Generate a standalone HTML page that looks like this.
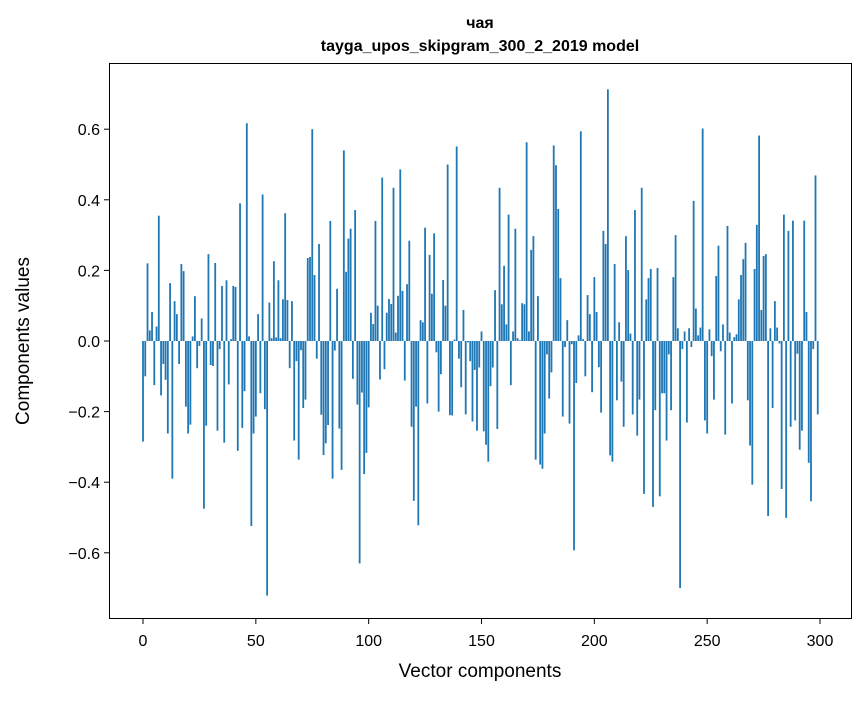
<!DOCTYPE html>
<html><head><meta charset="utf-8"><style>
body{margin:0;background:#fff;}
svg text{font-family:"Liberation Sans","DejaVu Sans",sans-serif;fill:#000;}
</style></head><body>
<svg id="chart" width="867" height="696" viewBox="0 0 867 696" xmlns="http://www.w3.org/2000/svg">
<rect width="867" height="696" fill="#fff"/>
<text x="480" y="28" text-anchor="middle" font-size="16" font-weight="bold">чая</text>
<text x="480" y="51" text-anchor="middle" font-size="16" font-weight="bold">tayga_upos_skipgram_300_2_2019 model</text>
<g id="bars"></g>
<g id="axes"></g>
<rect x="109.5" y="63.5" width="742" height="555" fill="none" stroke="#000" stroke-width="1"/>
<text x="480" y="677" text-anchor="middle" font-size="19">Vector components</text>
<text transform="translate(29,341) rotate(-90)" text-anchor="middle" font-size="19">Components values</text>
</svg>
<script>
const values = [
-0.285,-0.10,0.22,0.03,0.082,-0.125,0.041,0.355,-0.154,-0.065,
-0.11,-0.262,0.164,-0.39,0.113,0.076,-0.065,0.218,0.198,-0.186,
-0.262,-0.237,0.013,0.127,-0.077,-0.014,0.064,-0.475,-0.24,0.246,
-0.068,-0.071,0.221,-0.254,-0.023,0.156,-0.288,0.172,-0.123,0.005,
0.156,0.153,-0.311,0.39,-0.246,-0.142,0.617,0.013,-0.524,-0.262,
-0.214,0.076,-0.148,0.415,-0.193,-0.721,0.109,0.008,0.226,0.01,
0.172,0.008,0.118,0.362,0.116,-0.077,0.113,-0.282,-0.057,-0.336,
-0.026,-0.19,-0.166,0.235,0.238,0.6,0.187,-0.05,0.275,-0.209,
-0.323,-0.29,-0.238,0.34,-0.39,-0.027,0.148,-0.248,-0.365,0.54,
0.196,0.29,0.318,-0.107,0.371,-0.18,-0.63,-0.146,-0.377,-0.317,
-0.188,0.08,0.048,0.34,0.1,-0.109,0.463,-0.08,0.08,0.119,
0.105,0.434,0.024,0.128,0.486,0.142,-0.112,0.161,0.284,-0.243,
-0.453,-0.186,-0.522,0.059,0.053,0.321,-0.177,0.244,0.134,0.305,
-0.032,-0.2,-0.094,0.173,0.1,0.5,-0.21,-0.211,0.004,0.551,
-0.05,-0.131,0.088,-0.208,-0.004,-0.057,-0.228,-0.082,-0.254,-0.075,
0.027,-0.256,-0.294,-0.342,-0.128,-0.075,0.144,-0.249,0.434,0.104,
0.213,0.047,0.358,-0.125,0.027,0.318,0.008,0.002,0.107,0.104,
0.563,0.027,0.258,0.297,-0.336,0.127,-0.35,-0.362,-0.262,-0.038,
-0.163,-0.089,0.554,0.498,0.374,0.178,-0.214,-0.017,0.059,-0.234,
-0.009,-0.593,-0.119,0.016,0.594,0.005,-0.1,0.13,0.076,-0.145,
0.181,0.082,-0.074,-0.203,0.312,0.275,0.713,-0.324,-0.342,0.218,
-0.168,0.053,-0.115,-0.243,0.297,0.201,0.021,-0.208,0.371,-0.268,
-0.166,0.434,-0.433,0.118,0.178,0.204,-0.47,-0.196,0.207,-0.44,
-0.148,-0.148,-0.282,-0.038,-0.196,0.181,0.3,0.036,-0.7,-0.023,
0.027,-0.231,0.036,-0.017,0.397,0.092,0.016,0.038,0.602,-0.225,
-0.262,0.033,-0.043,-0.166,0.184,0.27,-0.029,0.047,-0.265,0.326,
0.024,-0.177,0.011,0.019,0.118,0.187,0.232,0.278,-0.168,-0.296,
-0.407,0.204,0.329,0.582,0.088,0.241,0.246,-0.496,0.036,-0.19,
0.113,0.038,-0.007,-0.419,0.358,-0.501,0.312,-0.243,0.341,-0.225,
-0.036,-0.308,-0.254,0.341,0.082,-0.345,-0.454,-0.023,0.469,-0.208
];
const xTicks = [0,50,100,150,200,250,300];
const yTicks = [-0.6,-0.4,-0.2,0.0,0.2,0.4,0.6];
const yTickLabels = ["\u22120.6","\u22120.4","\u22120.2","0.0","0.2","0.4","0.6"];

const NS = "http://www.w3.org/2000/svg";
function xScale(i){ return 143 + 2.2567*i; }
function yScale(v){ return 341 - 353*v; }

const barsG = document.getElementById('bars');
values.forEach((v,i)=>{
  const r = document.createElementNS(NS,'rect');
  const cx = xScale(i);
  const y0 = yScale(0), y1 = yScale(v);
  r.setAttribute('x', cx - 0.9);
  r.setAttribute('width', 1.8);
  r.setAttribute('y', Math.min(y0,y1));
  r.setAttribute('height', Math.max(Math.abs(y1-y0),0.3));
  r.setAttribute('fill', '#1f77b4');
  
  
  barsG.appendChild(r);
});

const axesG = document.getElementById('axes');
xTicks.forEach(t=>{
  const x = xScale(t);
  const l = document.createElementNS(NS,'line');
  l.setAttribute('x1',x); l.setAttribute('x2',x);
  l.setAttribute('y1',619); l.setAttribute('y2',624);
  l.setAttribute('stroke','#000');
  
  
  axesG.appendChild(l);
  const tx = document.createElementNS(NS,'text');
  tx.setAttribute('x',x); tx.setAttribute('y',646);
  tx.setAttribute('text-anchor','middle'); tx.setAttribute('font-size','16');
  tx.textContent = String(t);
  
  
  axesG.appendChild(tx);
});
yTicks.forEach((t,k)=>{
  const y = yScale(t);
  const l = document.createElementNS(NS,'line');
  l.setAttribute('x1',104); l.setAttribute('x2',109);
  l.setAttribute('y1',y); l.setAttribute('y2',y);
  l.setAttribute('stroke','#000');
  
  
  axesG.appendChild(l);
  const tx = document.createElementNS(NS,'text');
  tx.setAttribute('x',100); tx.setAttribute('y',y+6);
  tx.setAttribute('text-anchor','end'); tx.setAttribute('font-size','16');
  tx.textContent = yTickLabels[k];
  
  
  axesG.appendChild(tx);
});
</script>
</body></html>
